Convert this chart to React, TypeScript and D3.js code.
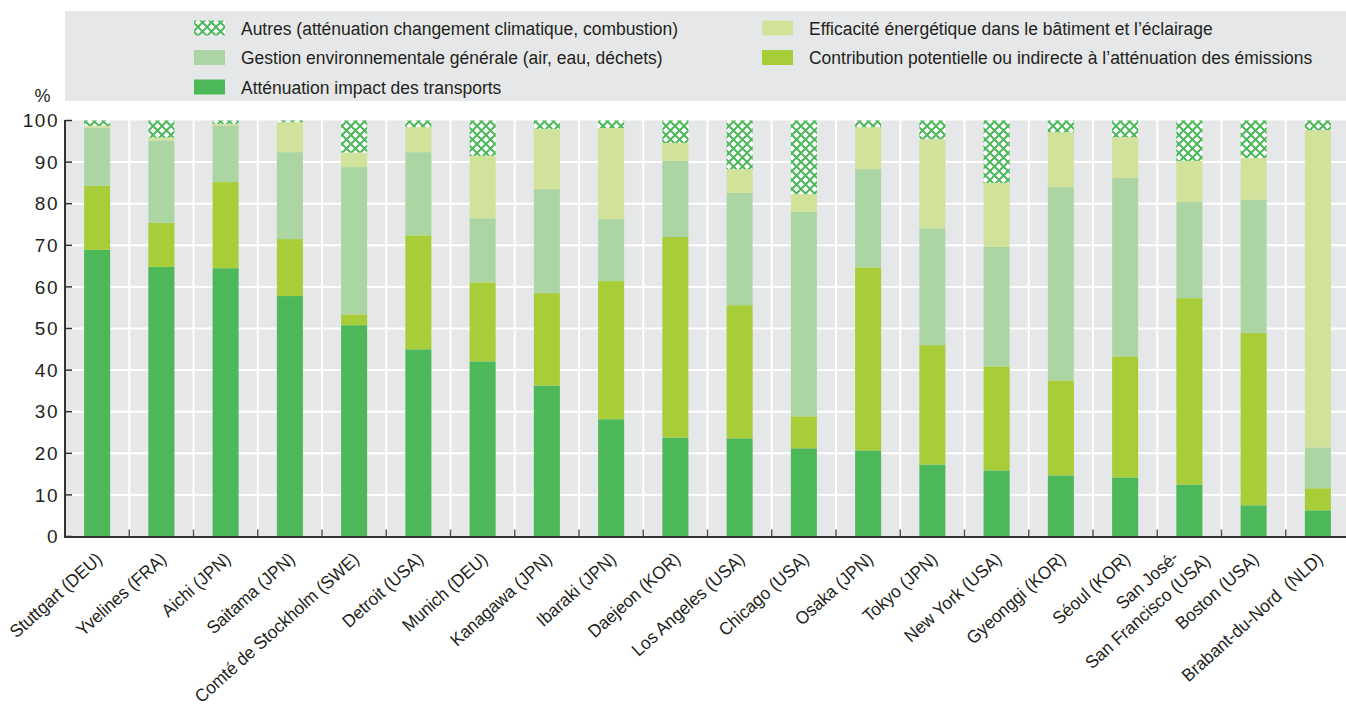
import React from 'react';
import * as d3 from 'd3';

const categories = [
  'Stuttgart (DEU)', 'Yvelines (FRA)', 'Aichi (JPN)', 'Saitama (JPN)', 'Comté de Stockholm (SWE)',
  'Detroit (USA)', 'Munich (DEU)', 'Kanagawa (JPN)', 'Ibaraki (JPN)', 'Daejeon (KOR)',
  'Los Angeles (USA)', 'Chicago (USA)', 'Osaka (JPN)', 'Tokyo (JPN)', 'New York (USA)',
  'Gyeonggi (KOR)', 'Séoul (KOR)', 'San José-\nSan Francisco (USA)', 'Boston (USA)', 'Brabant-du-Nord  (NLD)',
];

const transports = [68.9, 64.8, 64.5, 57.8, 50.8, 45.0, 42.1, 36.3, 28.2, 23.8, 23.6, 21.2, 20.7, 17.3, 15.9, 14.7, 14.2, 12.5, 7.5, 6.3];
const contribution = [15.4, 10.6, 20.7, 13.7, 2.6, 27.4, 19.0, 22.2, 33.2, 48.2, 32.0, 7.7, 44.0, 28.7, 25.0, 22.8, 29.1, 44.8, 41.4, 5.3];
const gestion = [14.0, 19.8, 13.6, 20.9, 35.4, 20.0, 15.4, 25.0, 14.9, 18.3, 27.0, 49.1, 23.6, 28.1, 28.7, 46.5, 42.9, 23.1, 32.0, 9.8];
const efficacite = [0.4, 0.7, 0.4, 7.2, 3.5, 6.0, 15.0, 14.5, 21.9, 4.3, 5.7, 4.3, 10.1, 21.4, 15.4, 13.2, 9.8, 9.9, 10.1, 76.3];
const autres = [1.3, 4.1, 0.8, 0.4, 7.7, 1.6, 8.5, 2.0, 1.8, 5.4, 11.7, 17.7, 1.6, 4.5, 15.0, 2.8, 4.0, 9.7, 9.0, 2.3];

const seriesKeys = ['transports', 'contribution', 'gestion', 'efficacite', 'autres'];
const seriesLabels: Record<string, string> = {
  autres: 'Autres (atténuation changement climatique, combustion)',
  efficacite: 'Efficacité énergétique dans le bâtiment et l’éclairage',
  gestion: 'Gestion environnementale générale (air, eau, déchets)',
  contribution: 'Contribution potentielle ou indirecte à l’atténuation des émissions',
  transports: 'Atténuation impact des transports',
};
const legendColumns = [
  ['autres', 'gestion', 'transports'],
  ['efficacite', 'contribution'],
];
const yTicks = [0, 10, 20, 30, 40, 50, 60, 70, 80, 90, 100];

const GREEN = '#4cb859';
const colors: Record<string, string> = {
  transports: GREEN,
  contribution: '#a7ce39',
  gestion: '#abd6a4',
  efficacite: '#d1e29a',
  autres: 'url(#hatch)',
};

const W = 1346;
const H = 709;
const plotLeft = 65;
const plotRight = 1350;
const plotTop = 120.5;
const plotBottom = 536.5;
const FONT = '"Liberation Sans", Arial, Helvetica, sans-serif';
const TEXT = '#231f20';

export default function App() {
  const table = categories.map((c, i) => ({
    cat: c,
    transports: transports[i],
    contribution: contribution[i],
    gestion: gestion[i],
    efficacite: efficacite[i],
    autres: autres[i],
  }));
  const stacked = d3.stack<any>().keys(seriesKeys)(table);

  const x = d3.scaleBand<string>().domain(categories).range([plotLeft, plotRight]).paddingInner(0.595).paddingOuter(0.2975);
  const y = d3.scaleLinear().domain([0, 100]).range([plotBottom, plotTop]);
  const step = (plotRight - plotLeft) / categories.length;
  const boundaries = d3.range(1, categories.length).map((i) => plotLeft + i * step);

  return (
    <svg width={W} height={H} style={{ position: 'absolute', left: 0, top: 0, background: '#fff' }} fontFamily={FONT}>
      <defs>
        <pattern id="hatch" width={9} height={9} patternUnits="userSpaceOnUse">
          <rect width={9} height={9} fill="#fff" />
          <path d="M0,0L9,9M9,0L0,9" stroke={GREEN} strokeWidth={2} />
        </pattern>
      </defs>

      {/* legend */}
      <rect x={65} y={11} width={W - 65} height={90} fill="#e6e7e8" />
      {legendColumns.map((col, ci) =>
        col.map((key, ri) => {
          const sx = ci === 0 ? 194 : 762;
          const cy = 28 + ri * 29.5;
          return (
            <g key={key}>
              <rect x={sx} y={cy - 7.5} width={31} height={15} fill={colors[key]} />
              <text transform={`translate(${sx + 47},${cy}) scale(0.92,1)`} dy="0.35em" fontSize={19} fill={TEXT}>
                {seriesLabels[key]}
              </text>
            </g>
          );
        })
      )}

      {/* plot background */}
      <rect x={plotLeft} y={plotTop} width={plotRight - plotLeft} height={plotBottom - plotTop} fill="#e6e7e8" />
      {yTicks.slice(1, -1).map((t) => (
        <line key={t} x1={plotLeft} x2={plotRight} y1={y(t)} y2={y(t)} stroke="#fff" strokeWidth={2} />
      ))}
      {boundaries.map((bx, i) => (
        <line key={i} x1={bx} x2={bx} y1={plotTop} y2={plotBottom} stroke="#fff" strokeWidth={2} />
      ))}

      {/* bars */}
      {stacked.map((s) => (
        <g key={s.key} fill={colors[s.key]}>
          {s.map((d, i) => (
            <rect
              key={i}
              x={x(categories[i])}
              width={x.bandwidth()}
              y={y(d[1])}
              height={Math.max(0, y(d[0]) - y(d[1]))}
            />
          ))}
        </g>
      ))}

      {/* axes */}
      <line x1={plotLeft} x2={plotLeft} y1={plotTop - 0.5} y2={plotBottom + 1} stroke="#333" strokeWidth={2} />
      {yTicks.map((t) => (
        <g key={t}>
          <line x1={plotLeft} x2={plotLeft + 7} y1={y(t)} y2={y(t)} stroke="#333" strokeWidth={1.5} />
          <text x={59} y={y(t)} dy="0.35em" textAnchor="end" fontSize={19} letterSpacing={1.5} fill={TEXT}>
            {t}
          </text>
        </g>
      ))}
      <line x1={plotLeft - 1} x2={W} y1={plotBottom + 0.5} y2={plotBottom + 0.5} stroke="#333" strokeWidth={2} />
      {boundaries.map((bx, i) => (
        <line key={i} x1={bx} x2={bx} y1={plotBottom - 7} y2={plotBottom} stroke="#555" strokeWidth={1.5} />
      ))}
      <text x={42.5} y={102} textAnchor="middle" fontSize={18} fill={TEXT}>%</text>

      {/* category labels */}
      {categories.map((c) => {
        const cx = (x(c) as number) + x.bandwidth() / 2;
        const lines = c.split('\n');
        return (
          <g key={c} transform={`translate(${cx + 2},556) rotate(-42)`}>
            {lines.map((ln, li) => {
              const k = li - (lines.length - 1) / 2;
              return (
                <text
                  key={li}
                  transform={`translate(${k * 21.2},${k * 23.6}) scale(0.95,1)`}
                  dy="0.35em"
                  textAnchor="end"
                  fontSize={18}
                  fill={TEXT}
                  style={{ whiteSpace: 'pre' }}
                >
                  {ln}
                </text>
              );
            })}
          </g>
        );
      })}
    </svg>
  );
}
